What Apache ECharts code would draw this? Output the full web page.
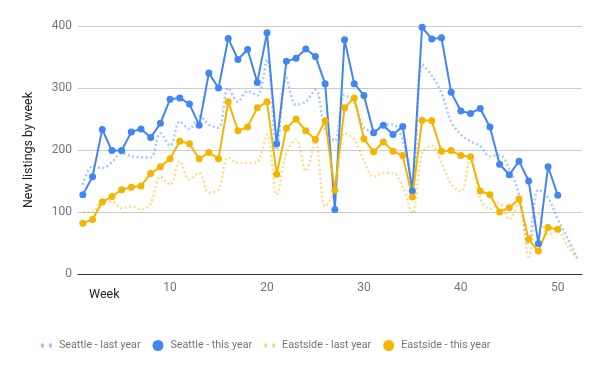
<!DOCTYPE html>
<html>
<head>
<meta charset="utf-8">
<script src="https://cdn.jsdelivr.net/npm/echarts@6/dist/echarts.min.js"></script>
<style>
html,body{margin:0;padding:0;background:#fff;}
#chart{width:600px;height:371px;}
</style>
</head>
<body>
<div id="chart"></div>
<script>
const weeks = [1,2,3,4,5,6,7,8,9,10,11,12,13,14,15,16,17,18,19,20,21,22,23,24,25,26,27,28,29,30,31,32,33,34,35,36,37,38,39,40,41,42,43,44,45,46,47,48,49,50,51,52];
const xTicks = [10,20,30,40,50];
const seattleLast = [144,174,171,180,195,190,188,188,227,207,246,234,255,241,236,300,278,295,288,346,200,316,273,278,297,233,215,289,276,236,230,241,241,216,147,338,320,292,246,225,214,206,190,192,170,128,50,136,123,88,58,26];
const seattleThis = [128,157,233,199,199,229,234,220,243,282,284,274,240,324,300,380,346,362,309,389,210,343,348,363,351,307,104,378,307,288,228,240,225,238,134,398,379,381,293,263,259,267,237,177,160,182,150,49,173,127];
const eastsideLast = [100,100,117,117,106,109,104,114,157,144,182,152,163,131,137,188,179,179,181,225,128,195,217,166,214,109,136,227,217,182,157,163,163,141,98,195,207,179,145,133,187,122,105,114,88,114,28,97,63,70,45,25];
const eastsideThis = [82,88,116,125,136,140,142,162,173,186,214,210,186,196,186,278,231,237,268,278,161,235,250,231,217,247,135,268,284,218,197,213,198,191,124,248,247,198,199,191,189,134,128,100,107,121,56,37,75,72];

const pairs = arr => arr.map((v, i) => [weeks[i], v]);
const BLUE = '#4285F4', ORANGE = '#F4B400';
const dashIcon = 'path://M0,0h3v4h-3z M8,0h3v4h-3z';

const chart = echarts.init(document.getElementById('chart'), null, {renderer: 'canvas'});
chart.setOption({
  animation: false,
  textStyle: {fontFamily: 'Roboto'},
  title: {
    text: 'Week', left: 84, top: 283,
    textStyle: {fontSize: 12.5, fontWeight: 'normal', color: '#222', fontFamily: 'Roboto'}
  },
  grid: {left: 78, right: 18, top: 26, bottom: 97, containLabel: false},
  legend: {
    top: 335, left: 36, itemGap: 12,
    textStyle: {fontSize: 10.7, color: '#757575', fontFamily: 'Roboto', padding: [0, 0, 0, 2]},
    data: [
      {name: 'Seattle - last year', icon: dashIcon, itemStyle: {color: 'rgba(66,133,244,0.5)'}},
      {name: 'Seattle - this year', icon: 'circle'},
      {name: 'Eastside - last year', icon: dashIcon, itemStyle: {color: 'rgba(244,180,0,0.5)'}},
      {name: 'Eastside - this year', icon: 'circle'}
    ],
    itemWidth: 11, itemHeight: 11
  },
  xAxis: {
    type: 'value', min: 0.5, max: 52.5,
    axisLine: {show: true, lineStyle: {color: '#333', width: 1}},
    axisTick: {show: false},
    splitLine: {show: false},
    axisLabel: {customValues: xTicks, color: '#757575', fontSize: 12, margin: 8}
  },
  yAxis: {
    type: 'value', min: 0, max: 400, interval: 100,
    name: 'New listings by week', nameLocation: 'middle', nameGap: 43, nameRotate: 90,
    nameTextStyle: {fontSize: 12.5, color: '#222'},
    axisLine: {show: false}, axisTick: {show: false},
    axisLabel: {color: '#757575', fontSize: 12, margin: 6},
    splitLine: {lineStyle: {color: '#ccc', width: 1}}
  },
  series: [
    {name: 'Seattle - last year', type: 'line', data: pairs(seattleLast), smooth: 0.35, showSymbol: false,
     lineStyle: {color: BLUE, opacity: 0.45, width: 2.5, type: [2, 2.5]}, itemStyle: {color: 'rgba(66,133,244,0.5)'}, z: 1},
    {name: 'Seattle - this year', type: 'line', data: pairs(seattleThis), symbol: 'circle', symbolSize: 7,
     lineStyle: {color: BLUE, width: 2}, itemStyle: {color: BLUE}, z: 3},
    {name: 'Eastside - last year', type: 'line', data: pairs(eastsideLast), smooth: 0.35, showSymbol: false,
     lineStyle: {color: ORANGE, opacity: 0.45, width: 2.5, type: [2, 2.5]}, itemStyle: {color: 'rgba(244,180,0,0.5)'}, z: 1},
    {name: 'Eastside - this year', type: 'line', data: pairs(eastsideThis), symbol: 'circle', symbolSize: 7,
     lineStyle: {color: ORANGE, width: 2}, itemStyle: {color: ORANGE}, z: 3}
  ]
});
</script>
</body>
</html>
